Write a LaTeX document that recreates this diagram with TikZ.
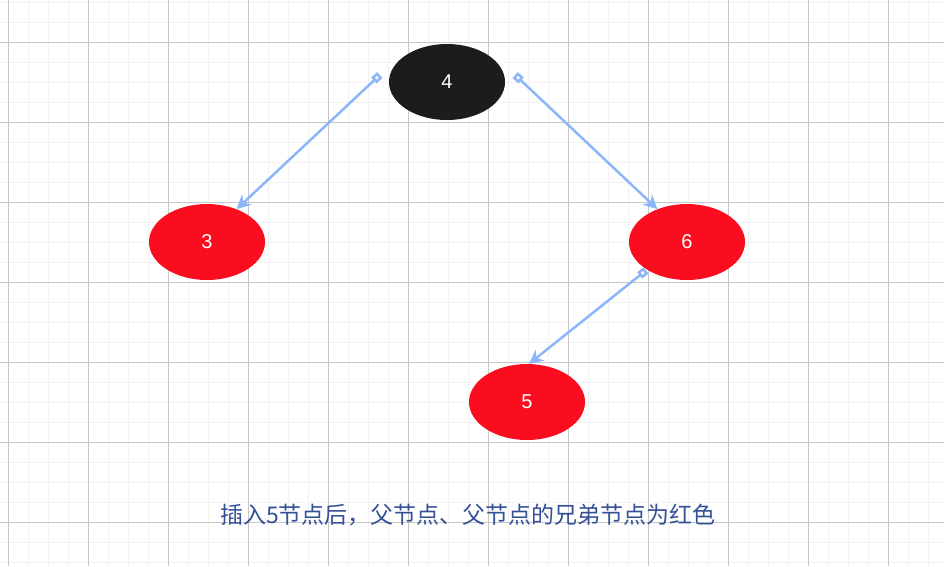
\documentclass[tikz,border=0pt]{standalone}
\usepackage{fontspec}
\newfontfamily\cjk{Noto Sans CJK SC}
\setsansfont{Liberation Sans}
\usetikzlibrary{arrows.meta, shapes.geometric}
\begin{document}
\begin{tikzpicture}[x=1pt, y=-1pt,
		rbnode/.style={ellipse, minimum width=116pt, minimum height=76pt, inner sep=0pt, text=white, font=\sffamily\fontsize{20}{20}\selectfont},
		link/.style={draw={rgb,255:red,140;green,182;blue,250}, line width=2.5pt, {Square[open, length=8pt, width=8pt, fill=white]}-{Stealth[length=14pt, width=14pt]}}]
			\definecolor{rbred}{rgb}{0.98, 0.05, 0.12}
			\definecolor{rbblack}{rgb}{0.11, 0.11, 0.11}
			\definecolor{captioncolor}{RGB}{52, 80, 150}
			\useasboundingbox (0, 0) rectangle (944, 566);
			% grid
			\foreach \x in {8, 28, ..., 944} \draw[black!5, line width=1pt] (\x, 0) -- (\x, 566);
			\foreach \y in {2, 22, ..., 566} \draw[black!5, line width=1pt] (0, \y) -- (944, \y);
			\foreach \x in {8, 88, ..., 944} \draw[black!22, line width=0.8pt] (\x, 0) -- (\x, 566);
			\foreach \y in {42, 122, ..., 566} \draw[black!22, line width=0.8pt] (0, \y) -- (944, \y);

			\node[rbnode, fill=rbblack] (n4) at (447, 82) {4};
			\node[rbnode, fill=rbred] (n3) at (207, 242) {3};
			\node[rbnode, fill=rbred] (n6) at (687, 242) {6};
			\node[rbnode, fill=rbred] (n5) at (527, 402) {5};

			\coordinate (s43) at ([xshift=-9pt, yshift=7pt]n4.west);
			\coordinate (s46) at ([xshift=10pt, yshift=7pt]n4.east);
			\coordinate (s65) at ([xshift=-13pt, yshift=5pt]n6.230);

			\draw[link] (s43) -- (n3.48);
			\draw[link] (s46) -- (n6.132);
			\draw[link] (s65) -- (n5.87);

			\node[text=captioncolor, font=\cjk\fontsize{23}{23}\selectfont] (caption) at (468, 515) {插入5节点后，父节点、父节点的兄弟节点为红色};
		\end{tikzpicture}
\end{document}
